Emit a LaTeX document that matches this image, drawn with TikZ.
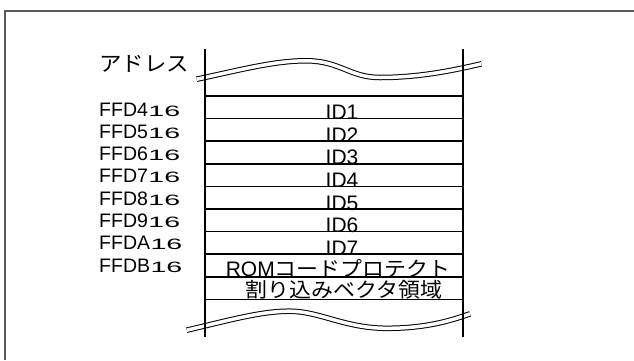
\documentclass[tikz,border=0pt]{standalone}
\usepackage{fontspec}
\setmainfont{Liberation Sans}
\newfontfamily\jpfont[FakeStretch=1.07]{Noto Sans CJK JP}
\newfontfamily\subfont[FakeStretch=1.9]{Liberation Sans}
\usetikzlibrary{positioning}

\newcommand{\hexsub}[1]{{\kern0.5pt\fontsize{15}{15}\subfont #1}}

\begin{document}
\begin{tikzpicture}[x=1pt, y=-1pt,
    addr/.style={anchor=base west, inner sep=0pt, font=\fontsize{19.5}{20}\selectfont},
    cell/.style={anchor=base, inner sep=0pt, text height=15pt, text depth=1pt, font=\fontsize{21}{22}\selectfont},
    jpcell/.style={cell, font=\fontsize{20.5}{21}\jpfont},
    rowline/.style={line width=1.5pt},
    wall/.style={line width=1.1pt},
    cut/.style={draw, double, double distance=3.5pt, line width=1pt},
    frame/.style={draw=black!65, line width=1.5pt}
  ]
    \useasboundingbox (0,0) rectangle (634,360);
    \draw[frame] (5,360) -- (5,11) -- (634,11);
    % breaks at top and bottom of the map
    \draw[cut] (196.7,79.2) .. controls (240,70) and (275,60.5) .. (307,60.8)
      .. controls (340,61) and (350,77.5) .. (380,77.5)
      .. controls (420,77.5) and (455,70) .. (481.5,63.8);
    \draw[cut] (186.7,330.2) .. controls (230,320) and (262,311) .. (290,311.2)
      .. controls (320,311.4) and (345,328.3) .. (387,328.3)
      .. controls (425,328.3) and (450,321) .. (470,313.8);
    \draw[wall] (205,49) -- (205,337);
    \draw[wall] (463,49) -- (463,337);
    \node[anchor=base west, inner sep=0pt, font=\fontsize{21}{22}\jpfont] (head) at (99,71) {アドレス};
    % rows
    \draw[wall] (205,96) -- (463,96);
    \foreach \k in {1,...,9}
      \draw[rowline] (205,{96+22.6*\k}) -- (463,{96+22.6*\k});
    \foreach \a [count=\i from 0] in {4,5,6,7,8,9,A}
      \node[cell] (id\i) at (342,{96+22.6*(\i+1)+1}) {ID\the\numexpr\i+1\relax};
    \node[cell] (rom) at (338,276) {ROM{\fontsize{20.5}{21}\jpfont コードプロテクト}};
    \node[jpcell] (vec) at (344,297.5) {割り込みベクタ領域};
    \foreach \a [count=\i from 0] in {4,5,6,7,8,9,A,B}
      \node[addr] (a\i) at (99,{116+22.3*\i}) {FFD\a\hexsub{16}};
  \end{tikzpicture}
\end{document}
